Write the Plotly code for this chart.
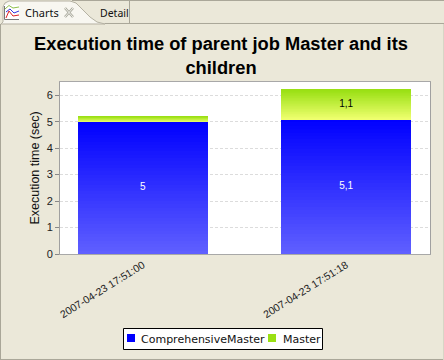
import plotly.graph_objects as go

categories = ["2007-04-23 17:51:00", "2007-04-23 17:51:18"]
series_names = ["ComprehensiveMaster", "Master"]
comprehensive_master = [5.0, 5.1]
master = [0.2, 1.1]
master_labels = ["", "1,1"]
comprehensive_labels = ["5", "5,1"]

W, H = 444, 360
BG = "#ebe8d9"
EDGE = "#a9a698"
L, R, T, B = 60, 14, 82, 106
SLICES = 40


def mix(a, b, t):
    return "rgb(%d,%d,%d)" % tuple(round(a[i] + (b[i] - a[i]) * t) for i in range(3))


def px(x):
    return (x - L) / (W - L - R)


def py(y):
    return 1 - (y - T) / (H - T - B)


def path(points, close=False):
    return "M" + " L".join(f"{px(x):.5f},{py(y):.5f}" for x, y in points) + (" Z" if close else "")


fig = go.Figure()


def add_gradient(values, top, bottom):
    # the bar is stacked from thin slices to reproduce its vertical gradient
    for i in range(SLICES):
        fig.add_bar(x=categories, y=[v / SLICES for v in values],
                    marker=dict(color=mix(bottom, top, (i + 0.5) / SLICES), line_width=0),
                    showlegend=False, hoverinfo="skip")


add_gradient(comprehensive_master, (0, 0, 255), (96, 96, 255))
add_gradient(master, (154, 224, 20), (240, 255, 112))

fig.add_scatter(x=categories, y=[v / 2 for v in comprehensive_master], mode="text",
                text=comprehensive_labels, textfont=dict(color="white", size=10, family="Liberation Sans"),
                showlegend=False, hoverinfo="skip")
fig.add_scatter(x=categories, y=[c + m / 2 for c, m in zip(comprehensive_master, master)], mode="text",
                text=master_labels, textfont=dict(color="black", size=10, family="Liberation Sans"),
                showlegend=False, hoverinfo="skip")

shapes = []


def line(points, color, width=1):
    shapes.append(dict(type="path", xref="paper", yref="paper", path=path(points),
                       line=dict(color=color, width=width), layer="above"))


def rect(x0, y0, x1, y1, fill, border=None):
    shapes.append(dict(type="rect", xref="paper", yref="paper", x0=px(x0), x1=px(x1), y0=py(y0), y1=py(y1),
                       fillcolor=fill, line=dict(color=border or fill, width=1 if border else 0), layer="above"))


tab_outline = [(1, 24), (3, 22), (3, 7), (5, 3), (9, 1), (70, 1), (76, 3), (82, 9), (90, 17), (97, 22), (105, 24)]
shapes.append(dict(type="path", xref="paper", yref="paper", path=path(tab_outline, True),
                   fillcolor="#f8f7f1", line=dict(color="#b5b2a3", width=1), layer="below"))
line([(105, 23.5), (444, 23.5)], EDGE)
line([(72, 0.5), (444, 0.5)], EDGE)
line([(129.5, 1), (129.5, 23)], EDGE)
line([(0.5, 24), (0.5, 360)], EDGE)
line([(0, 359.5), (444, 359.5)], EDGE)
line([(443.5, 24), (443.5, 360)], "#d8d5c6")
# tab icon
rect(4, 5, 19, 20, "#ffffff")
line([(4.5, 6), (4.5, 19.5), (19, 19.5)], "#777777")
line([(5, 9), (9, 5.5), (13, 8), (19, 7)], "#8fc04a")
line([(6, 12), (10, 9), (14, 13), (19, 11)], "#3333dd")
line([(6, 18), (9, 11), (13, 16), (19, 15)], "#dd2222")
# close icon
line([(65, 8), (73, 17)], "#a8a89c", 2.5)
line([(73, 8), (65, 17)], "#a8a89c", 2.5)
line([(65, 8), (73, 17)], "#f0f0ea", 1)
line([(73, 8), (65, 17)], "#f0f0ea", 1)
# legend box
rect(123.5, 328.5, 322.5, 349.5, "white", "black")
rect(127, 334, 135, 342, "#0000ff")
rect(268, 334, 276, 342, "#9ae014")

annotations = [
    dict(text="Charts", x=px(22.5), y=py(13), xref="paper", yref="paper", xanchor="left", yanchor="middle",
         showarrow=False, font=dict(family="Noto Sans", size=11, color="#111111")),
    dict(text="Detail", x=px(97.5), y=py(13), xref="paper", yref="paper", xanchor="left", yanchor="middle",
         showarrow=False, font=dict(family="Noto Sans", size=10.5, color="#111111")),
    dict(text=series_names[0], x=px(138.5), y=py(339.5), xref="paper", yref="paper", xanchor="left", yanchor="middle",
         showarrow=False, font=dict(family="DejaVu Sans", size=11, color="#111111")),
    dict(text=series_names[1], x=px(281), y=py(339.5), xref="paper", yref="paper", xanchor="left", yanchor="middle",
         showarrow=False, font=dict(family="DejaVu Sans", size=11, color="#111111")),
]

fig.update_layout(
    width=W, height=H, barmode="stack", bargap=0.364, showlegend=False,
    paper_bgcolor=BG, plot_bgcolor="white",
    margin=dict(l=L, r=R, t=T, b=B, autoexpand=False),
    font=dict(family="Liberation Sans", color="#111111"),
    title=dict(text="Execution time of parent job Master and its<br>children",
               x=221 / W, xanchor="center", y=1 - 50 / H, yanchor="middle",
               font=dict(family="Liberation Sans", size=18.3, color="black", weight="bold")),
    shapes=shapes, annotations=annotations,
    xaxis=dict(type="category", range=[-0.408, 1.413], tickangle=-32, ticks="",
               tickfont=dict(family="Liberation Sans", size=10.5, color="#222222"),
               showline=True, linecolor="#a8a8a8", linewidth=1, mirror=True, showgrid=False),
    yaxis=dict(range=[0, 6.5], dtick=1, tick0=0, ticks="outside", ticklen=4, tickcolor="#888888",
               tickfont=dict(family="Liberation Sans", size=11, color="#222222"),
               title=dict(text="Execution time (sec)", standoff=4,
                          font=dict(family="Liberation Sans", size=12.5, color="#111111")),
               showline=True, linecolor="#a0a0a0", linewidth=1, mirror=True,
               showgrid=True, gridcolor="#dcdcdc", griddash="3px,2px", gridwidth=1, zeroline=False),
)

fig.write_html("out.html", config={"displayModeBar": False},
               post_script="document.body.style.margin='0';")
